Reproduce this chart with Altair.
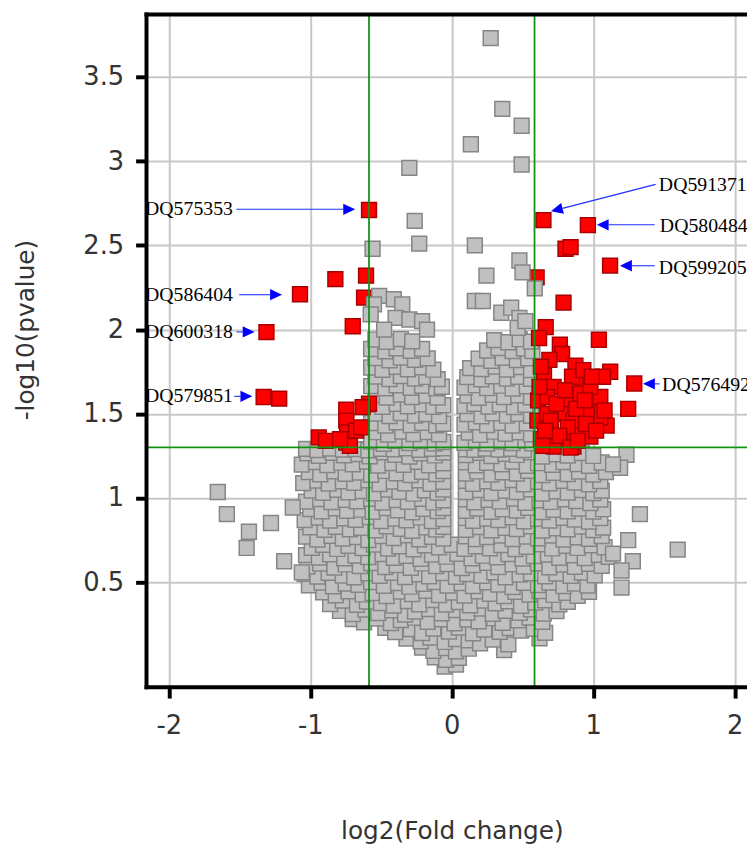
import altair as alt
import pandas as pd

# ---------------- values ----------------
x_ticks = [-2, -1, 0, 1, 2]
y_ticks = [0.5, 1, 1.5, 2, 2.5, 3, 3.5]
x_domain = [-2.158, 2.087]
y_domain = [-0.1225, 3.8705]
fc_cut = [-0.585, 0.585]
p_cut = [1.301]

# grey (not significant) genes, read band by band as (log2 FC, -log10 p)
gray_band_1 = [
    (-0.05, 0.000), (0.03, 0.012),
    (-0.12, 0.055), (-0.04, 0.040), (0.05, 0.052),
    (-0.21, 0.112), (-0.13, 0.094), (-0.04, 0.110), (0.03, 0.090), (0.12, 0.106), (0.37, 0.098),
    (-0.32, 0.166), (-0.22, 0.150), (-0.15, 0.172), (-0.05, 0.146), (0.03, 0.163), (0.12, 0.155),
    (0.20, 0.138), (0.29, 0.160), (0.40, 0.132), (0.62, 0.168),
    (-0.47, 0.230), (-0.40, 0.205), (-0.29, 0.222), (-0.21, 0.199), (-0.13, 0.226), (-0.02, 0.208),
    (0.05, 0.232), (0.15, 0.197), (0.23, 0.219), (0.34, 0.206), (0.41, 0.228), (0.49, 0.214),
    (0.58, 0.224), (0.66, 0.200),
    (-0.70, 0.282), (-0.62, 0.262), (-0.53, 0.285), (-0.43, 0.258), (-0.36, 0.276), (-0.26, 0.290),
    (-0.17, 0.265), (-0.07, 0.281), (0.02, 0.257), (0.11, 0.279), (0.19, 0.268), (0.30, 0.287),
    (0.36, 0.259), (0.47, 0.274), (0.55, 0.291), (0.64, 0.266),
    (-0.79, 0.330), (-0.70, 0.312), (-0.61, 0.338), (-0.52, 0.318), (-0.42, 0.334), (-0.33, 0.309),
    (-0.26, 0.327), (-0.16, 0.341), (-0.07, 0.316), (0.03, 0.335), (0.11, 0.321), (0.21, 0.344),
    (0.29, 0.313), (0.38, 0.331), (0.48, 0.319), (0.56, 0.340), (0.65, 0.315), (0.74, 0.329),
]
gray_band_2 = [
    (-0.86, 0.371), (-0.77, 0.392), (-0.67, 0.366), (-0.60, 0.385), (-0.50, 0.377), (-0.41, 0.362),
    (-0.31, 0.389), (-0.23, 0.370), (-0.13, 0.394), (-0.04, 0.368), (0.05, 0.383), (0.13, 0.364),
    (0.23, 0.391), (0.31, 0.375), (0.40, 0.387), (0.49, 0.361), (0.59, 0.380), (0.66, 0.393),
    (0.76, 0.369), (0.82, 0.384),
    (-0.91, 0.441), (-0.82, 0.423), (-0.73, 0.447), (-0.63, 0.428), (-0.56, 0.436), (-0.46, 0.419),
    (-0.36, 0.445), (-0.28, 0.430), (-0.18, 0.449), (-0.09, 0.424), (0.01, 0.439), (0.09, 0.421),
    (0.19, 0.446), (0.27, 0.432), (0.37, 0.418), (0.45, 0.443), (0.55, 0.427), (0.62, 0.448),
    (0.72, 0.425), (0.81, 0.437), (0.89, 0.420), (0.97, 0.444),
    (-1.01, 0.482), (-0.92, 0.498), (-0.84, 0.476), (-0.75, 0.493), (-0.66, 0.485), (-0.57, 0.502),
    (-0.48, 0.479), (-0.38, 0.496), (-0.30, 0.474), (-0.20, 0.491), (-0.12, 0.501), (-0.03, 0.480),
    (0.07, 0.495), (0.15, 0.477), (0.25, 0.500), (0.33, 0.486), (0.43, 0.472), (0.51, 0.497),
    (0.61, 0.483), (0.69, 0.499), (0.79, 0.478), (0.87, 0.492), (0.96, 0.481),
    (-1.04, 0.551), (-0.95, 0.534), (-0.87, 0.556), (-0.77, 0.540), (-0.69, 0.529), (-0.59, 0.553),
    (-0.51, 0.538), (-0.42, 0.557), (-0.33, 0.531), (-0.23, 0.548), (-0.16, 0.536), (-0.06, 0.555),
    (0.03, 0.533), (0.11, 0.549), (0.21, 0.538), (0.30, 0.559), (0.38, 0.530), (0.48, 0.546),
    (0.56, 0.554), (0.66, 0.535), (0.74, 0.552), (0.84, 0.539), (0.92, 0.558), (1.01, 0.541),
]
gray_band_3 = [
    (-1.02, 0.593), (-0.93, 0.611), (-0.83, 0.588), (-0.75, 0.606), (-0.65, 0.597), (-0.57, 0.614),
    (-0.47, 0.590), (-0.39, 0.603), (-0.29, 0.586), (-0.21, 0.612), (-0.11, 0.596), (-0.03, 0.608),
    (0.07, 0.584), (0.15, 0.602), (0.25, 0.615), (0.33, 0.591), (0.43, 0.607), (0.51, 0.594),
    (0.61, 0.613), (0.69, 0.589), (0.79, 0.605), (0.87, 0.592), (0.97, 0.610), (1.06, 0.598),
    (-1.03, 0.661), (-0.94, 0.647), (-0.86, 0.666), (-0.76, 0.642), (-0.68, 0.659), (-0.59, 0.650),
    (-0.49, 0.668), (-0.41, 0.645), (-0.32, 0.657), (-0.22, 0.640), (-0.14, 0.664), (-0.04, 0.652),
    (0.04, 0.669), (0.14, 0.643), (0.22, 0.658), (0.32, 0.648), (0.40, 0.667), (0.50, 0.641),
    (0.58, 0.656), (0.68, 0.665), (0.76, 0.646), (0.86, 0.660), (0.94, 0.644), (1.04, 0.663),
    (1.11, 0.651),
    (-0.99, 0.705), (-0.91, 0.722), (-0.81, 0.698), (-0.73, 0.716), (-0.63, 0.703), (-0.55, 0.724),
    (-0.45, 0.700), (-0.37, 0.713), (-0.27, 0.696), (-0.19, 0.719), (-0.09, 0.707), (0.00, 0.723),
    (0.09, 0.699), (0.17, 0.714), (0.27, 0.702), (0.35, 0.721), (0.45, 0.697), (0.53, 0.711),
    (0.63, 0.725), (0.71, 0.701), (0.81, 0.717), (0.89, 0.704), (0.99, 0.720), (1.08, 0.708),
]
# rows with the thin white slit near log2 FC = 0.02
gray_band_4 = [
    (-1.03, 0.771), (-0.95, 0.754), (-0.85, 0.776), (-0.77, 0.759), (-0.67, 0.768), (-0.59, 0.751),
    (-0.49, 0.774), (-0.41, 0.762), (-0.31, 0.779), (-0.23, 0.755), (-0.14, 0.770), (-0.06, 0.760),
    (0.10, 0.773), (0.17, 0.756), (0.25, 0.769), (0.35, 0.778), (0.43, 0.757), (0.53, 0.772),
    (0.61, 0.761), (0.71, 0.777), (0.79, 0.753), (0.89, 0.767), (0.97, 0.758), (1.06, 0.775),
    (-1.00, 0.826), (-0.90, 0.811), (-0.82, 0.829), (-0.72, 0.815), (-0.64, 0.823), (-0.54, 0.808),
    (-0.46, 0.832), (-0.36, 0.818), (-0.28, 0.806), (-0.18, 0.827), (-0.11, 0.813), (-0.06, 0.830),
    (0.10, 0.812), (0.20, 0.828), (0.28, 0.809), (0.38, 0.824), (0.46, 0.816), (0.56, 0.833),
    (0.64, 0.807), (0.74, 0.821), (0.82, 0.814), (0.92, 0.831), (1.00, 0.810), (1.07, 0.825),
    (-1.04, 0.869), (-0.94, 0.884), (-0.86, 0.866), (-0.76, 0.880), (-0.68, 0.871), (-0.58, 0.887),
    (-0.50, 0.863), (-0.40, 0.878), (-0.32, 0.868), (-0.22, 0.885), (-0.14, 0.864), (-0.06, 0.876),
    (0.10, 0.882), (0.15, 0.865), (0.25, 0.879), (0.33, 0.870), (0.43, 0.886), (0.51, 0.862),
    (0.61, 0.877), (0.69, 0.867), (0.79, 0.883), (0.87, 0.872), (0.97, 0.861), (1.05, 0.881),
    (-1.00, 0.935), (-0.92, 0.921), (-0.82, 0.939), (-0.74, 0.924), (-0.64, 0.931), (-0.56, 0.918),
    (-0.46, 0.941), (-0.38, 0.927), (-0.28, 0.916), (-0.20, 0.936), (-0.10, 0.923), (-0.06, 0.940),
    (0.10, 0.925), (0.18, 0.938), (0.28, 0.919), (0.36, 0.933), (0.46, 0.926), (0.54, 0.942),
    (0.64, 0.917), (0.72, 0.930), (0.82, 0.922), (0.90, 0.937), (1.00, 0.920), (1.07, 0.934),
]
gray_band_5 = [
    (-1.03, 0.979), (-0.93, 0.994), (-0.85, 0.976), (-0.75, 0.990), (-0.67, 0.981), (-0.57, 0.996),
    (-0.49, 0.973), (-0.39, 0.988), (-0.31, 0.978), (-0.21, 0.995), (-0.13, 0.974), (-0.06, 0.986),
    (0.10, 0.992), (0.16, 0.975), (0.26, 0.989), (0.34, 0.980), (0.44, 0.997), (0.52, 0.972),
    (0.62, 0.987), (0.70, 0.977), (0.80, 0.993), (0.88, 0.982), (0.98, 0.971), (1.05, 0.991),
    (-0.99, 1.045), (-0.91, 1.031), (-0.81, 1.049), (-0.73, 1.034), (-0.63, 1.041), (-0.55, 1.028),
    (-0.45, 1.051), (-0.37, 1.037), (-0.27, 1.026), (-0.19, 1.046), (-0.10, 1.033), (-0.06, 1.050),
    (0.10, 1.035), (0.20, 1.048), (0.28, 1.029), (0.38, 1.043), (0.46, 1.036), (0.56, 1.052),
    (0.64, 1.027), (0.74, 1.040), (0.82, 1.032), (0.92, 1.047), (1.00, 1.030), (1.06, 1.044),
    (-1.05, 1.089), (-0.95, 1.104), (-0.87, 1.086), (-0.77, 1.100), (-0.69, 1.091), (-0.59, 1.106),
    (-0.51, 1.083), (-0.41, 1.098), (-0.33, 1.088), (-0.23, 1.105), (-0.15, 1.084), (-0.06, 1.096),
    (0.10, 1.102), (0.15, 1.085), (0.25, 1.099), (0.33, 1.090), (0.43, 1.107), (0.51, 1.082),
    (0.61, 1.097), (0.69, 1.087), (0.79, 1.103), (0.87, 1.092), (0.97, 1.081), (1.05, 1.101),
    (-1.01, 1.155), (-0.93, 1.141), (-0.83, 1.159), (-0.75, 1.144), (-0.65, 1.151), (-0.57, 1.138),
    (-0.47, 1.161), (-0.39, 1.147), (-0.29, 1.136), (-0.21, 1.156), (-0.11, 1.143), (-0.06, 1.160),
    (0.10, 1.145), (0.18, 1.158), (0.28, 1.139), (0.36, 1.153), (0.46, 1.146), (0.54, 1.162),
    (0.64, 1.137), (0.72, 1.150), (0.82, 1.142), (0.90, 1.157), (1.00, 1.140), (1.09, 1.154),
]
gray_band_6 = [
    (-1.06, 1.199), (-0.96, 1.214), (-0.88, 1.196), (-0.78, 1.210), (-0.70, 1.201), (-0.60, 1.216),
    (-0.52, 1.193), (-0.42, 1.208), (-0.34, 1.198), (-0.24, 1.215), (-0.16, 1.194), (-0.06, 1.206),
    (0.10, 1.212), (0.17, 1.195), (0.25, 1.209), (0.35, 1.200), (0.43, 1.217), (0.53, 1.192),
    (0.61, 1.207), (0.71, 1.197), (0.79, 1.213), (0.89, 1.202), (0.97, 1.191), (1.06, 1.211),
    (-1.02, 1.265), (-0.94, 1.251), (-0.84, 1.269), (-0.76, 1.254), (-0.66, 1.261), (-0.58, 1.248),
    (-0.48, 1.271), (-0.40, 1.257), (-0.30, 1.246), (-0.22, 1.266), (-0.12, 1.253), (-0.06, 1.270),
    (0.10, 1.255), (0.20, 1.268), (0.28, 1.249), (0.38, 1.263), (0.46, 1.256), (0.56, 1.272),
    (0.64, 1.247), (0.74, 1.260), (0.82, 1.252), (0.92, 1.267), (1.00, 1.250),
    (-1.03, 1.292), (-0.95, 1.285), (-0.86, 1.294), (-0.77, 1.288), (-0.68, 1.291), (-0.59, 1.284),
    (-0.50, 1.293), (-0.41, 1.289), (-0.32, 1.295), (-0.23, 1.286), (-0.14, 1.292), (-0.06, 1.296),
    (0.10, 1.290), (0.16, 1.286), (0.24, 1.294), (0.33, 1.288), (0.42, 1.293), (0.51, 1.285),
]
# the two arms above the p = 0.05 line
gray_band_7 = [
    (-0.57, 1.335), (-0.48, 1.322), (-0.40, 1.340), (-0.30, 1.326), (-0.22, 1.338), (-0.12, 1.324),
    (-0.06, 1.333), (0.09, 1.328), (0.17, 1.341), (0.25, 1.323), (0.35, 1.336), (0.43, 1.327),
    (0.52, 1.342), (0.57, 1.325),
    (-0.53, 1.391), (-0.45, 1.377), (-0.35, 1.395), (-0.27, 1.380), (-0.17, 1.392), (-0.09, 1.378),
    (0.12, 1.389), (0.20, 1.376), (0.30, 1.394), (0.38, 1.381), (0.48, 1.390), (0.56, 1.379),
    (-0.57, 1.445), (-0.47, 1.431), (-0.39, 1.449), (-0.29, 1.434), (-0.21, 1.446), (-0.11, 1.432),
    (-0.06, 1.441), (0.09, 1.436), (0.17, 1.450), (0.25, 1.433), (0.35, 1.447), (0.43, 1.430),
    (0.53, 1.444),
    (-0.54, 1.501), (-0.44, 1.487), (-0.36, 1.504), (-0.26, 1.490), (-0.18, 1.499), (-0.09, 1.486),
    (0.11, 1.498), (0.21, 1.485), (0.29, 1.503), (0.39, 1.489), (0.47, 1.500), (0.56, 1.488),
    (-0.57, 1.555), (-0.49, 1.541), (-0.39, 1.559), (-0.31, 1.544), (-0.21, 1.556), (-0.13, 1.542),
    (-0.06, 1.551), (0.09, 1.546), (0.16, 1.560), (0.26, 1.543), (0.34, 1.557), (0.44, 1.540),
    (0.52, 1.554),
    (-0.54, 1.611), (-0.46, 1.597), (-0.36, 1.614), (-0.28, 1.600), (-0.18, 1.609), (-0.10, 1.596),
    (0.11, 1.608), (0.19, 1.595), (0.29, 1.613), (0.37, 1.599), (0.47, 1.610), (0.56, 1.598),
]
gray_band_8 = [
    (-0.57, 1.665), (-0.47, 1.651), (-0.39, 1.669), (-0.29, 1.654), (-0.21, 1.666), (-0.11, 1.652),
    (-0.07, 1.661), (0.09, 1.656), (0.17, 1.670), (0.25, 1.653), (0.35, 1.667), (0.43, 1.650),
    (0.53, 1.664),
    (-0.54, 1.721), (-0.44, 1.707), (-0.36, 1.724), (-0.26, 1.710), (-0.18, 1.719), (-0.10, 1.706),
    (0.11, 1.718), (0.21, 1.705), (0.29, 1.723), (0.39, 1.709), (0.47, 1.720), (0.56, 1.708),
    (-0.57, 1.775), (-0.49, 1.761), (-0.39, 1.779), (-0.31, 1.764), (-0.21, 1.776), (-0.13, 1.762),
    (0.13, 1.771), (0.21, 1.766), (0.31, 1.780), (0.39, 1.763), (0.49, 1.777), (0.56, 1.760),
    (-0.54, 1.831), (-0.44, 1.817), (-0.36, 1.834), (-0.26, 1.820), (-0.17, 1.829),
    (0.19, 1.828), (0.28, 1.815), (0.36, 1.833), (0.46, 1.819), (0.54, 1.830),
    (-0.57, 1.885), (-0.47, 1.871), (-0.39, 1.889), (-0.29, 1.874), (-0.21, 1.886),
    (0.25, 1.876), (0.33, 1.890), (0.43, 1.873), (0.51, 1.887), (0.57, 1.872),
    (-0.54, 1.941), (-0.46, 1.927), (-0.36, 1.944), (-0.28, 1.930),
    (0.30, 1.938), (0.40, 1.925), (0.48, 1.943), (0.56, 1.929),
]
# isolated grey genes
gray_single = [
    (-1.654, 1.036), (-1.59, 0.905), (-1.278, 0.852), (-1.434, 0.80), (-1.45, 0.704),
    (-1.124, 0.944), (-1.185, 0.625), (-1.06, 0.559),
    (1.33, 0.905), (1.597, 0.694), (1.247, 0.75), (1.28, 0.625), (1.20, 0.57),
    (1.14, 0.67), (1.20, 0.469), (1.235, 1.257), (1.19, 1.18), (1.14, 1.20),
    (-0.30, 2.96), (-0.262, 2.645), (-0.23, 2.51), (-0.56, 2.48),
    (0.275, 3.73), (0.357, 3.31), (0.494, 3.21), (0.135, 3.10), (0.494, 2.98),
    (0.163, 2.50), (0.478, 2.41), (0.50, 2.34), (0.245, 2.32), (0.587, 2.245),
    (0.163, 2.17), (0.22, 2.17), (0.35, 2.10), (0.42, 2.13), (0.478, 2.07),
    (0.466, 2.01), (0.52, 2.05),
    (-0.513, 2.20), (-0.41, 2.18), (-0.35, 2.15), (-0.55, 2.15), (-0.573, 2.09),
    (-0.397, 2.07), (-0.30, 2.06), (-0.21, 2.05), (-0.175, 2.00), (-0.478, 2.00),
]

# significant genes drawn beneath the grey ones
red_below = [(-0.62, 2.19), (0.60, 2.31)]

# significant genes (log2 FC, -log10 p)
red_genes = [
    (-0.585, 2.71), (-1.073, 2.21), (-0.823, 2.30), (-0.606, 2.32), (-0.70, 2.02),
    (-1.31, 1.985), (-1.33, 1.60), (-1.22, 1.59),
    (-0.746, 1.525), (-0.746, 1.46), (-0.74, 1.39), (-0.585, 1.56), (-0.63, 1.54),
    (-0.94, 1.36), (-0.89, 1.34), (-0.746, 1.33), (-0.72, 1.31), (-0.676, 1.40),
    (-0.64, 1.42), (-0.79, 1.35),
    (0.648, 2.65), (0.962, 2.62), (0.804, 2.48), (0.84, 2.49), (1.119, 2.38),
    (0.79, 2.16), (0.664, 2.015), (0.617, 1.95), (1.04, 1.94), (0.764, 1.91),
    (0.78, 1.855), (1.12, 1.75), (1.07, 1.72), (1.29, 1.68), (1.247, 1.53),
    (0.874, 1.786), (0.652, 1.727), (0.92, 1.68), (0.72, 1.66), (0.85, 1.72),
    (1.095, 1.43), (1.05, 1.48), (0.61, 1.58), (0.675, 1.60), (0.606, 1.46),
    (0.70, 1.40), (0.79, 1.345), (0.86, 1.306), (0.72, 1.306), (0.91, 1.40),
    (0.98, 1.365), (0.815, 1.58), (0.91, 1.62), (1.0, 1.56), (1.05, 1.60),
    (0.98, 1.66), (0.77, 1.50), (0.86, 1.46), (0.675, 1.50), (0.955, 1.50),
    (0.63, 1.35), (0.74, 1.56), (0.82, 1.42), (0.88, 1.53), (0.95, 1.44),
    (1.02, 1.40), (0.69, 1.82), (0.80, 1.64), (0.62, 1.66), (0.63, 1.78),
    (0.93, 1.76), (0.99, 1.72), (1.08, 1.52), (0.76, 1.37), (0.84, 1.30),
    (0.64, 1.31), (0.70, 1.46), (0.66, 1.40), (0.89, 1.34), (0.94, 1.58),
]

# annotations
left_names = ["DQ575353", "DQ586404", "DQ600318", "DQ579851"]
left_text_x = [-1.547, -1.547, -1.547, -1.547]
left_text_y = [2.714, 2.207, 1.986, 1.604]
right_names = ["DQ591371", "DQ580484", "DQ599205", "DQ576492"]
right_text_x = [1.464, 1.471, 1.464, 1.487]
right_text_y = [2.856, 2.614, 2.367, 1.673]

arrow_x1 = [-1.522, -1.503, -1.522, -1.538, 1.441, 1.434, 1.434, 1.469]
arrow_y1 = [2.714, 2.207, 1.986, 1.604, 2.862, 2.622, 2.379, 1.678]
arrow_x2 = [-0.766, -1.285, -1.478, -1.494, 0.7825, 1.109, 1.273, 1.436]
arrow_y2 = [2.714, 2.207, 1.986, 1.604, 2.7196, 2.622, 2.379, 1.678]
head_x = [-0.725, -1.242, -1.436, -1.452, 0.742, 1.067, 1.231, 1.394]
head_y = [2.714, 2.207, 1.986, 1.604, 2.711, 2.622, 2.379, 1.678]
head_angle = [0, 0, 0, 0, 165.7, 180, 180, 180]

# ---------------- tables ----------------
gray_pts = (gray_band_1 + gray_band_2 + gray_band_3 + gray_band_4 + gray_band_5
            + gray_band_6 + gray_band_7 + gray_band_8 + gray_single)
gray_df = pd.DataFrame(gray_pts, columns=["x", "y"])
red_df = pd.DataFrame(red_genes, columns=["x", "y"])
red_below_df = pd.DataFrame(red_below, columns=["x", "y"])
vline_df = pd.DataFrame({"x": fc_cut})
hline_df = pd.DataFrame({"y": p_cut})
left_df = pd.DataFrame({"x": left_text_x, "y": left_text_y, "t": left_names})
right_df = pd.DataFrame({"x": right_text_x, "y": right_text_y, "t": right_names})
arrow_df = pd.DataFrame({"x": arrow_x1, "y": arrow_y1, "x2": arrow_x2, "y2": arrow_y2})
head_df = pd.DataFrame({"x": head_x, "y": head_y, "a": head_angle})
left_border_df = pd.DataFrame({"x": [x_domain[0]]})
hborder_df = pd.DataFrame({"y": [y_domain[0], y_domain[1]]})

# ---------------- scales / axes ----------------
xsc = alt.Scale(domain=x_domain, nice=False, zero=False)
ysc = alt.Scale(domain=y_domain, nice=False, zero=False)

common_axis = dict(
    grid=True, gridColor="#c8c8c8", gridWidth=2, domain=False,
    ticks=True, tickSize=11, tickWidth=4, tickColor="black",
    labelFont="DejaVu Sans", labelFontSize=26, labelColor="#333333",
    labelFlush=False, labelOverlap=False, labelBound=False,
    labelExpr="datum.value + ''",
    titleFont="DejaVu Sans", titleFontSize=25, titleFontWeight="normal",
    titleColor="#333333",
)
xax = alt.Axis(values=x_ticks, title="log2(Fold change)", labelPadding=36,
               labelBaseline="alphabetic", titleX=308.7, titleY=153,
               titleAlign="center", titleBaseline="alphabetic", **common_axis)
yax = alt.Axis(values=y_ticks, title="-log10(pvalue)", labelPadding=12,
               titleX=-122, titleY=318.5, titleAngle=270, titleAlign="center",
               titleBaseline="middle", **common_axis)


def X(f="x"):
    return alt.X(f + ":Q", scale=xsc, axis=xax)


def Y(f="y"):
    return alt.Y(f + ":Q", scale=ysc, axis=yax)


sq = dict(size=225, strokeWidth=1.5, opacity=1, filled=True)

red_under = alt.Chart(red_below_df).mark_square(fill="#ff0000", stroke="#a80000", **sq).encode(x=X(), y=Y())
gray = alt.Chart(gray_df).mark_square(fill="#c0c0c0", stroke="#858585", **sq).encode(x=X(), y=Y())
red = alt.Chart(red_df).mark_square(fill="#ff0000", stroke="#a80000", **sq).encode(x=X(), y=Y())

vlines = alt.Chart(vline_df).mark_rule(color="#139213", strokeWidth=1.8).encode(x=X())
hlines = alt.Chart(hline_df).mark_rule(color="#139213", strokeWidth=1.8).encode(y=Y())

arrows = alt.Chart(arrow_df).mark_rule(color="#2030ff", strokeWidth=1.1).encode(
    x=X(), y=Y(), x2=alt.X2("x2:Q"), y2=alt.Y2("y2:Q"))
heads = alt.Chart(head_df).mark_point(
    shape="M-1,-0.95L1,0L-1,0.95Z", filled=True, fill="#0000ff", strokeWidth=0,
    size=144, opacity=1).encode(x=X(), y=Y(), angle=alt.Angle("a:Q", scale=None))

left_txt = alt.Chart(left_df).mark_text(font="Liberation Serif", fontSize=20, color="black",
                                        align="right", baseline="middle").encode(x=X(), y=Y(), text="t:N")
right_txt = alt.Chart(right_df).mark_text(font="Liberation Serif", fontSize=20, color="black",
                                          align="left", baseline="middle").encode(x=X(), y=Y(), text="t:N")

left_border = alt.Chart(left_border_df).mark_rule(color="black", strokeWidth=4, strokeCap="square").encode(x=X())
h_border = alt.Chart(hborder_df).mark_rule(color="black", strokeWidth=4, strokeCap="square").encode(y=Y())

chart = alt.layer(
    red_under, gray, red, vlines, hlines, arrows, heads, left_txt, right_txt, left_border, h_border
).properties(
    width=607, height=680,
    autosize=alt.AutoSizeParams(type="none"),
    padding={"left": 140, "top": 2, "right": 0, "bottom": 158},
).configure_view(strokeWidth=0).configure(background="white")

chart.save("out.html", embed_options={"renderer": "svg", "actions": False})
